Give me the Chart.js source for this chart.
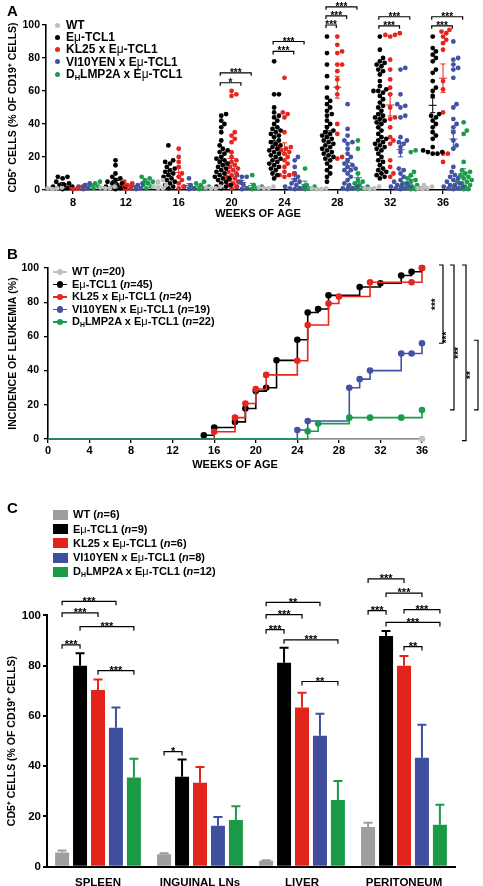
<!DOCTYPE html>
<html><head><meta charset="utf-8">
<title>CD5+ CLL figure</title>
<script src="https://cdn.jsdelivr.net/npm/chart.js@4/dist/chart.umd.min.js"></script>
<style>
html,body{margin:0;padding:0;background:#fff;}
body{width:483px;height:886px;position:relative;overflow:hidden;font-family:"Liberation Sans",Arial,Helvetica,sans-serif;color:#000;}
canvas{position:absolute;left:0;}
.pl{position:absolute;font-weight:bold;font-size:15px;line-height:15px;}
.row{position:absolute;font-weight:bold;white-space:nowrap;}
.mu{font-weight:normal;}
.mk{position:absolute;}
sub{font-size:0.62em;vertical-align:-0.3em;line-height:0;}
</style></head>
<body>
<canvas id="cA" width="483" height="235" style="top:0px"></canvas>
<canvas id="cB" width="483" height="245" style="top:240px"></canvas>
<canvas id="cC" width="483" height="391" style="top:495px"></canvas>
<div class="pl" style="left:7px;top:3px">A</div>
<div class="pl" style="left:7px;top:246px">B</div>
<div class="pl" style="left:7px;top:500px">C</div>
<script>
// ================= DATA =================
// Panel A: CD5+ cells (% of CD19+) per week, per group (one inner list per week)
const weeksA = [8, 12, 16, 20, 24, 28, 32, 36];
const wtA = [
  [1.5, 1, 1, 0.5],
  [2, 1.5, 1, 1],
  [6, 5, 3, 2, 1, 1],
  [2, 1.5, 1, 1],
  [2, 1.5, 1, 1],
  [1, 1, 0.5, 0.5],
  [2, 1, 1, 0.5],
  [3, 2, 1, 1, 0.5]
];
const tcl1A = [
  [8, 8, 7, 5, 4, 3, 3, 2, 2, 1, 1, 0.5],
  [18, 15, 10, 8, 7, 6, 5, 4, 4, 3, 2, 2, 1, 1, 0.5],
  [27, 18, 17, 16, 14, 13, 12, 11, 10, 9, 8, 7, 6, 5, 4, 3, 2, 1],
  [46, 45, 42, 40, 38, 35, 30, 27, 25, 24, 23, 22, 20, 19, 18, 17, 16, 15, 14, 13, 12, 11, 10, 9, 8, 7, 7, 6, 5, 4, 3, 2, 2, 1],
  [78, 58, 58, 50, 47, 45, 44, 42, 40, 38, 37, 36, 35, 34, 33, 32, 30, 29, 28, 27, 26, 25, 24, 23, 22, 21, 20, 19, 18, 17, 16, 15, 14, 13, 12, 10, 9, 7],
  [93, 83, 76, 69, 62, 56, 54, 52, 50, 48, 46, 45, 42, 40, 38, 36, 35, 34, 33, 32, 31, 30, 29, 28, 27, 26, 25, 24, 23, 22, 21, 20, 19, 18, 16, 14, 12, 10, 8, 5],
  [93, 85, 80, 78, 77, 76, 75, 73, 72, 70, 66, 63, 61, 60, 60, 59, 57, 55, 53, 51, 50, 48, 46, 45, 44, 43, 42, 41, 40, 38, 36, 34, 32, 31, 30, 29, 28, 27, 26, 25, 24, 22, 20, 18, 17, 15, 13, 12, 11, 10, 9, 8, 7],
  [93, 86, 84, 82, 80, 78, 73, 71, 66, 62, 60, 57, 46, 45, 44, 42, 40, 38, 35, 33, 31, 26, 24, 23, 23, 22, 22]
];
const kl25A = [
  [2, 1.5, 1, 0.5],
  [5, 4, 3, 2, 1, 0.5],
  [25, 20, 17, 14, 10, 8, 6, 4, 2, 1],
  [60, 58, 57, 35, 33, 31, 29, 23, 20, 18, 17, 16, 15, 14, 13, 12, 11, 10, 9, 8, 7, 6, 5, 4, 3, 2, 1],
  [68, 47, 46, 44, 35, 26, 26, 25, 24, 23, 22, 20, 18, 16, 14, 11, 10, 9, 9, 8],
  [93, 88, 84, 83, 76, 76, 72, 67, 62, 58, 40, 34, 20, 19],
  [95, 94, 94, 93, 79, 73, 67, 62, 58, 50, 44, 43, 38, 32, 30, 28, 18, 14, 10, 8],
  [97, 96, 95, 93, 91, 89, 85, 66, 61, 47, 22, 22, 17]
];
const vi10A = [
  [4, 3, 2, 1, 0.5],
  [4, 3, 2, 1, 0.5],
  [7, 3, 2, 1, 0.5],
  [9, 8, 8, 5, 3, 2, 1, 0.5],
  [20, 18, 14, 10, 8, 6, 5, 4, 3, 2, 2, 1, 1, 0.5],
  [52, 37, 33, 30, 29, 28, 25, 22, 20, 18, 16, 15, 14, 13, 12, 12, 10, 8, 6, 4, 3, 2, 1, 1, 0.5],
  [74, 73, 58, 52, 51, 50, 45, 44, 32, 30, 29, 28, 26, 23, 13, 12, 10, 8, 6, 5, 4, 3, 3, 2, 2, 1, 1, 0.5],
  [90, 80, 79, 76, 74, 73, 68, 52, 50, 43, 40, 38, 35, 30, 27, 25, 14, 11, 9, 8, 7, 6, 5, 4, 3, 3, 2, 2, 1, 1, 0.5]
];
const lmp2aA = [
  [5, 4, 3, 3, 2, 1],
  [8, 7, 6, 5, 4, 3, 2, 1],
  [5, 4, 3, 2, 1, 1, 0.5],
  [9, 3, 2, 1, 1, 0.5],
  [13, 3, 2, 1, 1, 0.5],
  [30, 25, 10, 6, 5, 4, 3, 2, 2, 1, 1, 0.5],
  [24, 23, 11, 9, 7, 6, 5, 4, 3, 3, 2, 2, 1, 1, 0.5, 0.5],
  [41, 36, 34, 17, 12, 11, 10, 9, 8, 7, 6, 5, 5, 4, 3, 2, 2, 1, 1, 0.5, 0.5]
];
const yTicksA = [0, 20, 40, 60, 80, 100];

// Panel B: incidence of leukemia (Kaplan-Meier style steps)
const kmWeeksWT = [0, 36];
const kmPctWT = [0, 0];
const kmWeeksTCL1 = [0, 15, 16, 18, 19, 20, 21, 22, 24, 25, 26, 27, 30, 32, 34, 35, 36];
const kmPctTCL1 = [0, 2.2, 6.7, 10, 17.8, 28, 30, 46, 58, 74, 76, 84, 88.9, 91.1, 95.6, 97.8, 100];
const kmWeeksKL25 = [0, 16, 18, 19, 20, 21, 24, 25, 27, 28, 31, 35, 36];
const kmPctKL25 = [0, 4.2, 12.5, 20.8, 29.2, 37.5, 45.8, 66.7, 79.2, 83.3, 91.7, 91.7, 100];
const kmWeeksVI10 = [0, 24, 25, 29, 30, 31, 34, 35, 36];
const kmPctVI10 = [0, 5.3, 10.5, 30, 35, 40, 50, 50, 56];
const kmWeeksLMP2A = [0, 25, 26, 29, 31, 34, 36];
const kmPctLMP2A = [0, 4.5, 9, 12.5, 12.5, 12.5, 17];
const nB = [20, 45, 24, 19, 22];

// Panel C: CD5+ cells per organ (mean and SEM)
const organs = ['SPLEEN', 'INGUINAL LNs', 'LIVER', 'PERITONEUM'];
const wtC = [5.7, 5.0, 2.4, 15.8];
const wtCsem = [0.7, 0.4, 0.2, 1.7];
const tcl1C = [80, 35.8, 81.2, 91.8];
const tcl1Csem = [4.9, 6.9, 5.9, 2.0];
const kl25C = [70.3, 33.4, 63.4, 80];
const kl25Csem = [4.2, 6.3, 5.8, 3.8];
const vi10C = [55.3, 16.3, 52.1, 43.4];
const vi10Csem = [8.1, 3.5, 8.8, 13.1];
const lmp2aC = [35.5, 18.6, 26.5, 16.7];
const lmp2aCsem = [7.5, 5.5, 7.6, 8.0];
const nC = [6, 9, 6, 8, 12];

// Significance annotations
const bracketsA = [
  {w: 20, a: 1, b: 3, y: 65, t: '*'}, {w: 20, a: 1, b: 4, y: 71, t: '***'},
  {w: 24, a: 1, b: 3, y: 84, t: '***'}, {w: 24, a: 1, b: 4, y: 90, t: '***'},
  {w: 28, a: 1, b: 2, y: 100, t: '***'}, {w: 28, a: 1, b: 3, y: 105.5, t: '***'}, {w: 28, a: 1, b: 4, y: 111, t: '***'},
  {w: 32, a: 1, b: 3, y: 99.5, t: '***'}, {w: 32, a: 1, b: 4, y: 105, t: '***'},
  {w: 36, a: 1, b: 3, y: 99.5, t: '***'}, {w: 36, a: 1, b: 4, y: 105, t: '***'}
];
const bracketsB = [
  {k: 0, y1: 100, y2: 56, t: '***'},
  {k: 1, y1: 100, y2: 17, t: '***'},
  {k: 2, y1: 100, y2: -1, t: '***'},
  {k: 3, y1: 56, y2: 17, t: '**'}
];
const bracketsC = [
  {c: 0, a: 0, b: 3, y: 105.6, t: '***'}, {c: 0, a: 0, b: 2, y: 101, t: '***'}, {c: 0, a: 1, b: 4, y: 95.5, t: '***'},
  {c: 0, a: 0, b: 1, y: 88.3, t: '***'}, {c: 0, a: 2, b: 4, y: 78, t: '***'},
  {c: 1, a: 0, b: 1, y: 45.8, t: '*'},
  {c: 2, a: 0, b: 3, y: 105.2, t: '**'}, {c: 2, a: 0, b: 2, y: 100.3, t: '***'}, {c: 2, a: 0, b: 1, y: 94.3, t: '***'},
  {c: 2, a: 1, b: 4, y: 90.3, t: '***'}, {c: 2, a: 2, b: 4, y: 73.7, t: '**'},
  {c: 3, a: 0, b: 2, y: 114.5, t: '***'}, {c: 3, a: 1, b: 3, y: 108.9, t: '***'}, {c: 3, a: 0, b: 1, y: 101.9, t: '***'},
  {c: 3, a: 2, b: 4, y: 102.3, t: '***'}, {c: 3, a: 1, b: 4, y: 97.2, t: '***'}, {c: 3, a: 2, b: 3, y: 87.6, t: '**'}
];

// ================= STYLE =================
const FAM = '"Liberation Sans", Arial, Helvetica, sans-serif';
Chart.defaults.font.family = FAM;
Chart.defaults.font.weight = 'bold';
Chart.defaults.color = '#000';
Chart.defaults.animation = false;

const colA = ['#bdbdbd', '#000000', '#e5261f', '#4352a2', '#1b9b4b'];
const colB = ['#c2c2c2', '#000000', '#e5261f', '#4352a2', '#1b9b4b'];
const colC = ['#9e9e9e', '#000000', '#e3241b', '#3f4e9f', '#1a9a47'];
const groupOff = [-2, -1, 0, 1, 2];
const gapA = 0.78;
const seriesA = [wtA, tcl1A, kl25A, vi10A, lmp2aA];
const yTitle = 'CD5\u207A CELLS (% OF CD19\u207A CELLS)';

const gridBlack = {display: true, drawOnChartArea: false, drawTicks: true, tickLength: 4, color: '#000', lineWidth: 1.3};
const borderBlack = {display: true, color: '#000', width: 1.6};

function meanSem(v) {
  const n = v.length, m = v.reduce((a, b) => a + b, 0) / n;
  const sd = Math.sqrt(v.reduce((a, b) => a + (b - m) * (b - m), 0) / (n - 1));
  return [m, sd / Math.sqrt(n)];
}

function drawBracketH(ctx, x1, x2, y, t, tick, fs) {
  ctx.save();
  ctx.strokeStyle = '#000'; ctx.lineWidth = 1.2;
  ctx.beginPath();
  ctx.moveTo(x1, y + tick); ctx.lineTo(x1, y); ctx.lineTo(x2, y); ctx.lineTo(x2, y + tick);
  ctx.stroke();
  ctx.fillStyle = '#000'; ctx.font = 'bold ' + fs + 'px ' + FAM;
  ctx.textAlign = 'center'; ctx.textBaseline = 'alphabetic';
  ctx.fillText(t, (x1 + x2) / 2, y + fs * 0.3);
  ctx.restore();
}

// ================= PANEL A =================
const dsA = seriesA.map((ser, g) => ({
  label: 'g' + g,
  data: ser.flatMap((vals, wi) => vals.map(v => ({x: weeksA[wi] + groupOff[g] * gapA, y: v, wi: wi}))),
  backgroundColor: colA[g], borderColor: colA[g], borderWidth: 0,
  pointRadius: 2.4, pointHoverRadius: 2.4, clip: false
}));

const errPluginA = {
  id: 'errA',
  afterDatasetsDraw(chart) {
    const {ctx, scales: {x, y}} = chart;
    ctx.save();
    seriesA.forEach((ser, g) => ser.forEach((vals, wi) => {
      if (vals.length < 2) return;
      const [m, s] = meanSem(vals);
      const px = x.getPixelForValue(weeksA[wi] + groupOff[g] * gapA);
      const yt = y.getPixelForValue(m + s), yb = y.getPixelForValue(m - s), ym = y.getPixelForValue(m);
      ctx.strokeStyle = colA[g]; ctx.lineWidth = 1;
      ctx.beginPath();
      ctx.moveTo(px, yt); ctx.lineTo(px, yb);
      ctx.moveTo(px - 2.5, yt); ctx.lineTo(px + 2.5, yt);
      ctx.moveTo(px - 2.5, yb); ctx.lineTo(px + 2.5, yb);
      ctx.moveTo(px - 4, ym); ctx.lineTo(px + 4, ym);
      ctx.stroke();
    }));
    ctx.restore();
  }
};
const bracketPluginA = {
  id: 'brA',
  afterDraw(chart) {
    const {ctx, scales: {x, y}} = chart;
    bracketsA.forEach(b => {
      const x1 = x.getPixelForValue(b.w + groupOff[b.a] * gapA) - 1;
      const x2 = x.getPixelForValue(b.w + groupOff[b.b] * gapA) - 1;
      drawBracketH(ctx, x1, x2, y.getPixelForValue(b.y), b.t, 3, 10);
    });
  }
};

const chartA = new Chart(document.getElementById('cA'), {
  type: 'scatter',
  data: {datasets: dsA},
  options: {
    responsive: false, animation: false, events: [],
    layout: {padding: {left: 0, right: 13, top: 25, bottom: 0}},
    plugins: {legend: {display: false}, tooltip: {enabled: false}},
    scales: {
      x: {
        type: 'linear', min: 5.96, max: 38.04,
        afterBuildTicks: s => { s.ticks = weeksA.map(v => ({value: v})); },
        afterFit: s => { s.height = 45; },
        grid: gridBlack, border: borderBlack,
        ticks: {font: {size: 11, weight: 'bold'}, padding: 2, color: '#000'},
        title: {display: true, text: 'WEEKS OF AGE', font: {size: 11, weight: 'bold'}, color: '#000', padding: {top: 0, bottom: 14}}
      },
      y: {
        min: 0, max: 100,
        afterBuildTicks: s => { s.ticks = yTicksA.map(v => ({value: v})); },
        afterFit: s => { s.width = 46; },
        grid: gridBlack, border: borderBlack,
        ticks: {font: {size: 10.5, weight: 'bold'}, padding: 2, color: '#000'},
        title: {display: true, text: yTitle, font: {size: 10.5, weight: 'bold'}, color: '#000', padding: {top: 6.5, bottom: 0}}
      }
    }
  },
  plugins: [errPluginA, bracketPluginA]
});

// beeswarm-style horizontal spreading of dots inside each group (layout only)
(function swarm(chart) {
  const xs = chart.scales.x, ys = chart.scales.y;
  chart.data.datasets.forEach((ds, g) => {
    weeksA.forEach((w, wi) => {
      const pts = ds.data.filter(p => p.wi === wi).sort((a, b) => a.y - b.y);
      const cx = xs.getPixelForValue(w + groupOff[g] * gapA);
      const placed = [];
      const D = 4.2;
      pts.forEach(p => {
        const py = ys.getPixelForValue(p.y);
        let best = 0, bestC = Infinity;
        for (let k = 0; k <= 12; k++) {
          const dx = (k % 2 ? 1 : -1) * Math.ceil(k / 2) * 1.6;
          let c = 0;
          for (const q of placed) {
            const d = Math.hypot(q.x - (cx + dx), q.y - py);
            if (d < D) c += D - d;
          }
          if (c === 0) { best = dx; bestC = 0; break; }
          if (c < bestC) { bestC = c; best = dx; }
        }
        placed.push({x: cx + best, y: py});
        p.x = xs.getValueForPixel(cx + best);
      });
    });
  });
  chart.update('none');
})(chartA);

// ================= PANEL B =================
const kmList = [
  [kmWeeksWT, kmPctWT], [kmWeeksTCL1, kmPctTCL1], [kmWeeksKL25, kmPctKL25],
  [kmWeeksVI10, kmPctVI10], [kmWeeksLMP2A, kmPctLMP2A]
];
const dsB = kmList.map(([w, p], i) => ({
  type: 'line', label: 'k' + i,
  data: w.map((x, j) => ({x: x, y: p[j]})),
  stepped: 'before', borderColor: colB[i], backgroundColor: colB[i],
  borderWidth: 1.6, pointRadius: w.map((x, j) => j === 0 ? 0 : 3.3), pointBorderWidth: 0,
  pointHoverRadius: 3.3, fill: false, clip: false, order: [4, 3, 2, 1, 0][i]
}));
const bracketPluginB = {
  id: 'brB',
  afterDraw(chart) {
    const {ctx, scales: {x, y}} = chart;
    const x0 = x.getPixelForValue(36);
    const lineX = [21, 32, 44, 56];
    ctx.save();
    bracketsB.forEach(b => {
      const lx = x0 + lineX[b.k];
      const y1 = y.getPixelForValue(b.y1) - 3, y2 = y.getPixelForValue(b.y2);
      ctx.strokeStyle = '#000'; ctx.lineWidth = 1.2;
      ctx.beginPath();
      ctx.moveTo(lx - 4, y1); ctx.lineTo(lx, y1); ctx.lineTo(lx, y2); ctx.lineTo(lx - 4, y2);
      ctx.stroke();
      ctx.save();
      ctx.translate(lx - 7, (y1 + y2) / 2);
      ctx.rotate(-Math.PI / 2);
      ctx.fillStyle = '#000'; ctx.font = 'bold 10px ' + FAM;
      ctx.textAlign = 'center'; ctx.textBaseline = 'alphabetic';
      ctx.fillText(b.t, 0, 3);
      ctx.restore();
    });
    ctx.restore();
  }
};
const chartB = new Chart(document.getElementById('cB'), {
  type: 'line',
  data: {datasets: dsB},
  options: {
    responsive: false, animation: false, events: [],
    layout: {padding: {left: 0, right: 61, top: 28, bottom: 0}},
    plugins: {legend: {display: false}, tooltip: {enabled: false}},
    scales: {
      x: {
        type: 'linear', min: 0, max: 36,
        ticks: {stepSize: 4, font: {size: 11, weight: 'bold'}, padding: 1, color: '#000'},
        afterFit: s => { s.height = 46; },
        grid: gridBlack, border: borderBlack,
        title: {display: true, text: 'WEEKS OF AGE', font: {size: 11, weight: 'bold'}, color: '#000', padding: {top: 0, bottom: 13}}
      },
      y: {
        min: 0, max: 100,
        ticks: {stepSize: 20, font: {size: 10.5, weight: 'bold'}, padding: 5, color: '#000'},
        afterFit: s => { s.width = 48; },
        grid: gridBlack, border: borderBlack,
        title: {display: true, text: 'INCIDENCE OF LEUKEMIA (%)', font: {size: 10.5, weight: 'bold'}, color: '#000', padding: {top: 6.5, bottom: 0}}
      }
    }
  },
  plugins: [bracketPluginB]
});

// ================= PANEL C =================
const seriesC = [wtC, tcl1C, kl25C, vi10C, lmp2aC];
const semC = [wtCsem, tcl1Csem, kl25Csem, vi10Csem, lmp2aCsem];
const dsC = seriesC.map((vals, i) => ({
  label: 'c' + i, data: vals, backgroundColor: colC[i], borderWidth: 0,
  categoryPercentage: 0.88, barPercentage: 0.78
}));
const errPluginC = {
  id: 'errC',
  afterDatasetsDraw(chart) {
    const {ctx, scales: {y}} = chart;
    ctx.save();
    seriesC.forEach((vals, i) => {
      const meta = chart.getDatasetMeta(i);
      vals.forEach((v, j) => {
        const bar = meta.data[j];
        const yt = y.getPixelForValue(v + semC[i][j]);
        ctx.strokeStyle = colC[i]; ctx.lineWidth = 2;
        ctx.beginPath();
        ctx.moveTo(bar.x, bar.y); ctx.lineTo(bar.x, yt);
        ctx.moveTo(bar.x - 4.5, yt); ctx.lineTo(bar.x + 4.5, yt);
        ctx.stroke();
      });
    });
    ctx.restore();
  }
};
const bracketPluginC = {
  id: 'brC',
  afterDraw(chart) {
    const {ctx, scales: {y}} = chart;
    bracketsC.forEach(b => {
      const x1 = chart.getDatasetMeta(b.a).data[b.c].x;
      const x2 = chart.getDatasetMeta(b.b).data[b.c].x;
      drawBracketH(ctx, x1, x2, y.getPixelForValue(b.y), b.t, 4, 11);
    });
  }
};
const chartC = new Chart(document.getElementById('cC'), {
  type: 'bar',
  data: {labels: organs, datasets: dsC},
  options: {
    responsive: false, animation: false, events: [],
    layout: {padding: {left: 0, right: 28, top: 120.4, bottom: 0}},
    plugins: {legend: {display: false}, tooltip: {enabled: false}},
    scales: {
      x: {
        afterFit: s => { s.height = 19.3; },
        grid: {display: false}, border: {display: true, color: '#000', width: 2},
        ticks: {font: {size: 11.5, weight: 'bold'}, padding: 1, color: '#000', maxRotation: 0, autoSkip: false}
      },
      y: {
        min: 0, max: 100,
        ticks: {stepSize: 20, font: {size: 11.5, weight: 'bold'}, padding: 2, color: '#000'},
        afterFit: s => { s.width = 47; },
        grid: {display: true, drawOnChartArea: false, drawTicks: true, tickLength: 4, color: '#000', lineWidth: 2},
        border: {display: true, color: '#000', width: 2},
        title: {display: true, text: yTitle, font: {size: 10.5, weight: 'bold'}, color: '#000', padding: {top: 6, bottom: 0}}
      }
    }
  },
  plugins: [errPluginC, bracketPluginC]
});

// ================= LEGENDS (HTML text) =================
const mu = '<span class="mu">\u03BC</span>';
const namesHTML = ['WT', 'E' + mu + '-TCL1', 'KL25 x E' + mu + '-TCL1', 'VI10YEN x E' + mu + '-TCL1', 'D<sub>H</sub>LMP2A x E' + mu + '-TCL1'];
function addLegend(items, cols, xText, yc0, dy, fs, kind) {
  items.forEach((html, i) => {
    const yc = yc0 + i * dy;
    const row = document.createElement('div');
    row.className = 'row';
    row.style.left = xText + 'px';
    row.style.top = (yc - fs * 0.6) + 'px';
    row.style.fontSize = fs + 'px';
    row.style.lineHeight = (fs * 1.2) + 'px';
    row.innerHTML = html;
    document.body.appendChild(row);
    const add = (l, t, w, h, r) => {
      const m = document.createElement('div');
      m.className = 'mk';
      Object.assign(m.style, {left: l + 'px', top: t + 'px', width: w + 'px', height: h + 'px', background: cols[i], borderRadius: r});
      document.body.appendChild(m);
    };
    if (kind === 'dot') add(54.5, yc - 2.5, 5, 5, '50%');
    if (kind === 'line') { add(53, yc - 0.8, 14, 1.6, '0'); add(57, yc - 3.2, 6.4, 6.4, '50%'); }
    if (kind === 'rect') add(53, yc - 5, 15, 10, '0');
  });
}
addLegend(namesHTML, colA, 66, 25, 12.3, 12, 'dot');
addLegend(namesHTML.map((h, i) => h + ' (<i>n</i>=' + nB[i] + ')'), colB, 72, 272, 12.5, 11, 'line');
addLegend(namesHTML.map((h, i) => h + ' (<i>n</i>=' + nC[i] + ')'), colC, 73, 515, 14.2, 11, 'rect');
</script>
</body></html>
